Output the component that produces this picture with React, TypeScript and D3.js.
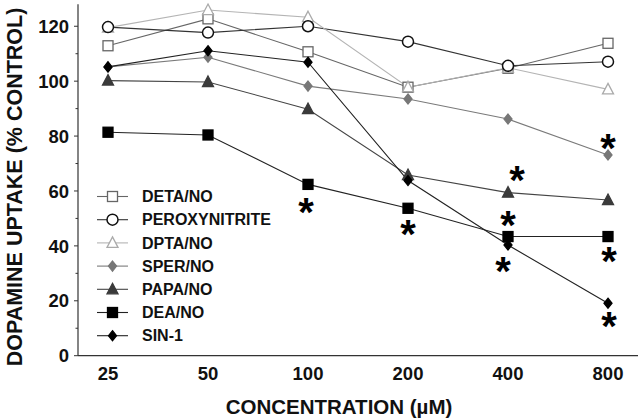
import React from "react";
import * as d3 from "d3";

const concentrations = ["25", "50", "100", "200", "400", "800"];
const yTicks = [0, 20, 40, 60, 80, 100, 120];
const yMinorTicks = [10, 30, 50, 70, 90, 110];

const detaNO = [112.9, 122.7, 110.7, 97.8, 104.7, 113.8];
const peroxynitrite = [119.7, 117.7, 120.0, 114.4, 105.6, 107.1];
const dptaNO = [119.5, 125.9, 123.3, 97.8, 104.9, 97.0];
const sperNO = [105.2, 108.7, 98.2, 93.5, 86.2, 73.1];
const papaNO = [100.2, 99.7, 89.8, 65.8, 59.4, 56.7];
const deaNO = [81.4, 80.4, 62.4, 53.7, 43.4, 43.4];
const sin1 = [105.2, 111.1, 106.9, 63.8, 40.3, 19.1];

// significance markers: category, value (center), small horizontal shift in category units
const starConc = ["100", "200", "400", "400", "400", "800", "800", "800"];
const starValue = [55.0, 47.2, 66.8, 50.5, 33.5, 78.3, 37.2, 13.5];
const starShift = [-0.02, 0, 0.09, 0, -0.05, 0, 0.01, 0.01];

type Series = {
  name: string;
  values: number[];
  shape: "square" | "circle" | "triangle" | "diamond";
  fill: string;
  stroke: string;
  line: string;
  size: number;
  z: number;
};

const series: Series[] = [
  { name: "DETA/NO", values: detaNO, shape: "square", fill: "#fff", stroke: "#666", line: "#666", size: 10, z: 0 },
  { name: "PEROXYNITRITE", values: peroxynitrite, shape: "circle", fill: "#fff", stroke: "#111", line: "#333", size: 11, z: 2 },
  { name: "DPTA/NO", values: dptaNO, shape: "triangle", fill: "#fff", stroke: "#aaa", line: "#b4b4b4", size: 11, z: 1 },
  { name: "SPER/NO", values: sperNO, shape: "diamond", fill: "#777", stroke: "#777", line: "#7a7a7a", size: 10, z: 3 },
  { name: "PAPA/NO", values: papaNO, shape: "triangle", fill: "#3a3a3a", stroke: "#3a3a3a", line: "#444", size: 11, z: 4 },
  { name: "DEA/NO", values: deaNO, shape: "square", fill: "#000", stroke: "#000", line: "#222", size: 10, z: 5 },
  { name: "SIN-1", values: sin1, shape: "diamond", fill: "#000", stroke: "#000", line: "#222", size: 10, z: 6 },
];

const W = 640;
const H = 419;
const FONT = "'Liberation Sans', Arial, sans-serif";

function Marker({ s, x, y }: { s: Series; x: number; y: number }) {
  const h = s.size / 2;
  const common = { fill: s.fill, stroke: s.stroke, strokeWidth: 1.3 };
  if (s.shape === "square") return <rect x={x - h} y={y - h} width={s.size} height={s.size} {...common} />;
  if (s.shape === "circle") return <circle cx={x} cy={y} r={h} {...common} strokeWidth={1.5} />;
  if (s.shape === "triangle")
    return <path d={`M${x},${y - h - 0.5}L${x + h},${y + h - 1}L${x - h},${y + h - 1}Z`} {...common} />;
  return <path d={`M${x},${y - h}L${x + h * 0.8},${y}L${x},${y + h}L${x - h * 0.8},${y}Z`} {...common} />;
}

export default function App() {
  const x = d3.scalePoint<string>().domain(concentrations).range([78, 638]).padding(0.3);
  const y = d3.scaleLinear().domain([0, 128]).range([355.7, 4.3]);
  const step = x.step();
  const line = d3
    .line<number>()
    .x((_, i) => x(concentrations[i]) as number)
    .y((v) => y(v));

  const legendX = 97;
  const legendY0 = 196.5;
  const legendDy = 23.2;
  const markerOrder = [...series].sort((a, b) => a.z - b.z);
  const starSize = 40;

  return (
    <svg
      width={W}
      height={H}
      style={{ position: "absolute", left: 0, top: 0, background: "#fff" }}
      fontFamily={FONT}
    >
      <rect width={W} height={H} fill="#fff" />
      {/* axes */}
      <line x1={78} x2={78} y1={y(128)} y2={y(0)} stroke="#333" strokeWidth={1.2} />
      <line x1={78} x2={638} y1={y(0)} y2={y(0)} stroke="#333" strokeWidth={1.2} />
      {yTicks.map((t) => (
        <g key={t}>
          <line x1={74} x2={78} y1={y(t)} y2={y(t)} stroke="#333" />
          <text x={69} y={y(t)} dy="0.36em" textAnchor="end" fontSize={18.5} fontWeight="bold" fill="#111">
            {t}
          </text>
        </g>
      ))}
      {yMinorTicks.map((t) => (
        <line key={t} x1={75.5} x2={78} y1={y(t)} y2={y(t)} stroke="#333" />
      ))}
      {concentrations.map((c) => (
        <text key={c} x={x(c)} y={373} dy="0.36em" textAnchor="middle" fontSize={18.5} fontWeight="bold" fill="#111">
          {c}
        </text>
      ))}
      <text x={339} y={407} dy="0.36em" textAnchor="middle" fontSize={20.5} fontWeight="bold" fill="#111">
        CONCENTRATION (µM)
      </text>
      <text
        transform={`translate(14,187) rotate(-90)`}
        dy="0.36em"
        textAnchor="middle"
        fontSize={21.5}
        fontWeight="bold"
        fill="#111"
      >
        DOPAMINE UPTAKE (% CONTROL)
      </text>

      {/* lines */}
      {series.map((s) => (
        <path key={s.name} d={line(s.values) || ""} fill="none" stroke={s.line} strokeWidth={1.1} />
      ))}
      {/* markers */}
      {markerOrder.map((s) =>
        s.values.map((v, i) => <Marker key={s.name + i} s={s} x={x(concentrations[i]) as number} y={y(v)} />)
      )}

      {/* significance stars */}
      {starConc.map((c, i) => (
        <text
          key={i}
          x={(x(c) as number) + starShift[i] * step}
          y={y(starValue[i]) + starSize * 0.54}
          textAnchor="middle"
          fontSize={starSize}
          fontWeight="bold"
          fill="#000"
        >
          *
        </text>
      ))}

      {/* legend */}
      {series.map((s, i) => {
        const ly = legendY0 + i * legendDy;
        return (
          <g key={s.name}>
            <line x1={legendX} x2={legendX + 31} y1={ly} y2={ly} stroke={s.line} strokeWidth={1.1} />
            <Marker s={s} x={legendX + 15.5} y={ly} />
            <text x={142} y={ly} dy="0.36em" fontSize={16} fontWeight="bold" fill="#111">
              {s.name}
            </text>
          </g>
        );
      })}
    </svg>
  );
}
